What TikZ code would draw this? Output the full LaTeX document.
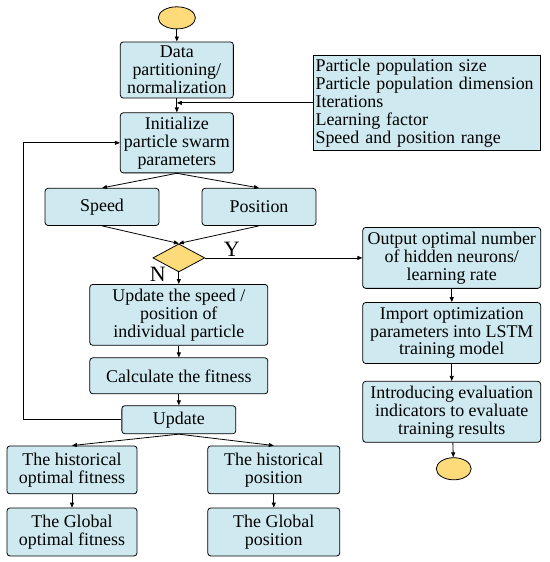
\documentclass[tikz,border=0pt]{standalone}
\usepackage{fontspec}
\setmainfont{Liberation Serif}
\definecolor{boxblue}{RGB}{207,233,240}
\definecolor{termyellow}{RGB}{253,218,122}
\usepackage{tikz}
\usetikzlibrary{arrows.meta, positioning, calc, shapes.geometric}
\newcommand{\flowfont}{\rmfamily\fontsize{18}{18}\selectfont}
\tikzset{
  blk/.style={draw, rounded corners=3pt, fill=boxblue, align=center, font=\flowfont, inner sep=1pt, line width=0.8pt},
  term/.style={draw, ellipse, fill=termyellow, minimum width=1.31cm, minimum height=0.78cm, inner sep=0pt, line width=0.8pt},
  dec/.style={draw, diamond, fill=termyellow, shape aspect=1.85, minimum width=1.83cm, minimum height=0.99cm, inner sep=0pt, line width=0.8pt},
  line/.style={-{Triangle[length=5pt,width=4pt]}, line width=0.8pt}
}

\begin{document}
\begin{tikzpicture}
  \useasboundingbox (0,0) rectangle (19.40,-19.83);

  % Start
  \node[term] (START) at (6.24, -0.63) {};

  % Preparation
  \node[blk, minimum width=3.99cm, minimum height=1.98cm] (DATA) at (6.24, -2.47) {Data\\partitioning/\\normalization};
  \node[blk, minimum width=3.99cm, minimum height=2.12cm] (INIT) at (6.24, -5.04) {Initialize\\particle swarm\\parameters};

  % Parameter list
  \node[draw, fill=boxblue, font=\flowfont, align=left, text width=7.85cm, inner xsep=0.08cm, inner ysep=2pt, minimum height=3.32cm, anchor=west, line width=0.8pt] (PARAM) at (11.04, -3.63) {Particle population size\\Particle population dimension\\Iterations\\Learning factor\\Speed and position range};

  % Speed and position
  \node[blk, minimum width=4.02cm, minimum height=1.31cm] (SPEED) at (3.60, -7.30) {Speed};
  \node[blk, minimum width=4.02cm, minimum height=1.31cm] (POS) at (9.14, -7.30) {Position};

  % Decision
  \node[dec] (DEC) at (6.31, -9.10) {};
  \node[font=\rmfamily\fontsize{22}{22}\selectfont] (YLAB) at (8.18, -8.80) {Y};
  \node[font=\rmfamily\fontsize{22}{22}\selectfont] (NLAB) at (5.57, -9.68) {N};

  % Iteration loop
  \node[blk, minimum width=6.28cm, minimum height=2.15cm] (UPV) at (6.31, -11.11) {Update the speed /\\position of\\individual particle};
  \node[blk, minimum width=6.28cm, minimum height=1.27cm] (CALC) at (6.31, -13.26) {Calculate the fitness};
  \node[blk, minimum width=4.02cm, minimum height=0.99cm] (UPD) at (6.31, -14.81) {Update};

  % Historical and global values
  \node[blk, minimum width=4.59cm, minimum height=1.69cm] (HFIT) at (2.54, -16.58) {The historical\\optimal fitness};
  \node[blk, minimum width=4.66cm, minimum height=1.69cm] (HPOS) at (9.66, -16.58) {The historical\\position};
  \node[blk, minimum width=4.59cm, minimum height=1.69cm] (GFIT) at (2.54, -18.77) {The Global\\optimal fitness};
  \node[blk, minimum width=4.66cm, minimum height=1.69cm] (GPOS) at (9.66, -18.77) {The Global\\position};

  % Output branch
  \node[blk, minimum width=6.28cm, minimum height=2.15cm] (OUT) at (15.94, -9.10) {Output optimal number\\of hidden neurons/\\learning rate};
  \node[blk, minimum width=6.28cm, minimum height=2.15cm] (IMP) at (15.94, -11.75) {Import optimization\\parameters into LSTM\\training model};
  \node[blk, minimum width=6.28cm, minimum height=2.15cm] (INTRO) at (15.94, -14.53) {Introducing evaluation\\indicators to evaluate\\training results};
  \node[term, minimum width=1.23cm] (END) at (16.01, -16.54) {};

  % Connectors
  \coordinate (PJOIN) at (DATA.south |- PARAM.west);
  \coordinate (FB) at (0.81, -14.81);
  \draw[line] (START) -- (DATA);
  \draw[line] (DATA) -- (INIT);
  \draw[line] (PARAM.west) -- (PJOIN);
  \draw[line] (INIT.south) -- (SPEED.north);
  \draw[line] (INIT.south) -- (POS.north);
  \draw[line] (SPEED.south) -- (DEC.north);
  \draw[line] (POS.south) -- (DEC.north);
  \draw[line] (DEC.east) -- (OUT.west);
  \draw[line] (DEC.south) -- (UPV.north);
  \draw[line] (UPV) -- (CALC);
  \draw[line] (CALC) -- (UPD);
  \draw[line] (UPD.west) -- (FB) |- (INIT.west);
  \draw[line] (UPD.south) -- (HFIT.north);
  \draw[line] (UPD.south) -- (HPOS.north);
  \draw[line] (HFIT) -- (GFIT);
  \draw[line] (HPOS) -- (GPOS);
  \draw[line] (OUT) -- (IMP);
  \draw[line] (IMP) -- (INTRO);
  \draw[line] (INTRO) -- (END);
\end{tikzpicture}
\end{document}
